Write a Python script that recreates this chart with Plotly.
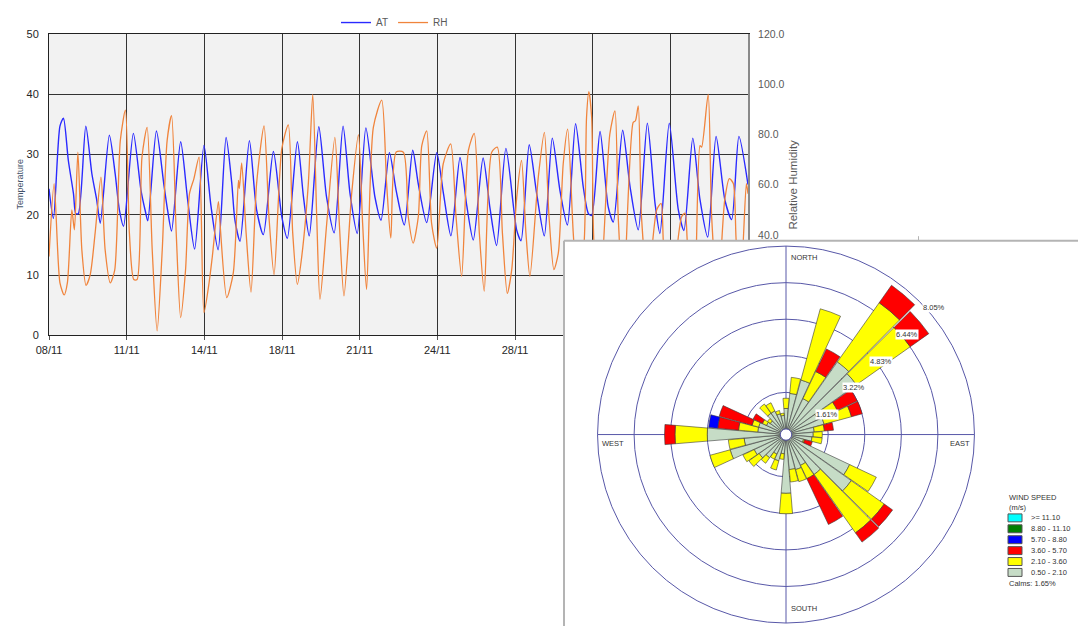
import plotly.graph_objects as go
import pandas as pd

# ---------------- time series data (days after 08/11 00:00) ----------------
start = pd.Timestamp("2019-11-08 00:00")

at_day = [0.00, 0.19, 0.47, 0.62, 0.83, 1.05, 1.15, 1.26, 1.58, 1.84, 2.05, 2.20, 2.59, 2.84,
          3.02, 3.20, 3.62, 3.95, 4.14, 4.24, 4.61, 4.93, 5.10, 5.26, 5.65, 5.95, 6.25, 6.65,
          6.95, 7.26, 7.60, 7.84, 7.98, 8.20, 8.60, 8.91, 9.20, 9.63, 9.99, 10.23, 10.66,
          10.92, 11.17, 11.58, 11.91, 12.24, 12.62, 12.92, 13.23, 13.60, 13.99, 14.25, 14.61,
          14.90, 15.25, 15.61, 15.85, 16.21, 16.64, 16.93, 17.25, 17.64, 17.93, 18.21, 18.63,
          18.93, 19.21, 19.61, 20.07, 20.26, 20.61, 20.93, 21.26, 21.60, 21.93, 22.25, 22.60,
          22.93, 23.15, 23.29, 23.65, 24.00, 24.22, 24.62, 24.94, 25.29, 25.68, 26.01, 26.22,
          26.62, 27.01, 27.25, 27.63, 27.94, 28.27, 28.63, 29.01, 29.30, 29.61, 30.00]
at_val = [24.3, 19.4, 34.7, 36.0, 29.0, 23.5, 20.2, 20.2, 34.7, 26.8, 22.4, 18.6, 33.2, 26.8,
          20.8, 18.1, 33.5, 24.0, 20.5, 19.0, 33.9, 25.0, 20.5, 17.3, 32.1, 22.5, 14.3, 31.5,
          21.5, 14.2, 32.8, 25.4, 19.1, 15.6, 32.3, 20.8, 16.7, 30.5, 19.7, 16.1, 32.1,
          23.0, 16.5, 34.6, 23.0, 17.0, 34.7, 23.5, 16.9, 34.4, 22.9, 19.1, 30.3,
          24.0, 18.3, 30.7, 25.1, 18.7, 30.3, 23.5, 16.5, 29.5, 21.5, 15.8, 29.4,
          21.0, 14.9, 31.0, 17.5, 15.7, 31.6, 23.5, 16.5, 32.7, 24.0, 18.3, 35.1,
          24.6, 20.2, 19.9, 33.8, 21.3, 18.8, 34.0, 24.6, 17.5, 35.2, 21.9, 16.9,
          35.2, 20.8, 17.4, 32.7, 22.5, 16.3, 33.0, 22.4, 19.2, 33.0, 25.0]

rh_day = [0.00, 0.22, 0.47, 0.65, 0.79, 0.98, 1.09, 1.24, 1.41, 1.59, 1.77, 1.98, 2.23, 2.41,
          2.63, 2.82, 3.06, 3.28, 3.45, 3.64, 3.78, 3.99, 4.21, 4.43, 4.64, 4.86, 5.07, 5.26,
          5.46, 5.65, 5.86, 6.03, 6.22, 6.44, 6.65, 6.87, 7.01, 7.27, 7.34, 7.63, 7.91, 8.13,
          8.17, 8.27, 8.46, 8.67, 8.91, 9.23, 9.44, 9.66, 9.99, 10.27, 10.46, 10.66, 10.84,
          11.13, 11.32, 11.49, 11.63, 11.92, 12.27, 12.46, 12.66, 12.99, 13.28, 13.46, 13.63,
          13.92, 14.28, 14.49, 14.67, 14.90, 15.21, 15.42, 15.63, 15.85, 16.00, 16.21, 16.42,
          16.64, 16.92, 17.24, 17.47, 17.71, 18.00, 18.25, 18.47, 18.68, 19.00, 19.24, 19.46,
          19.67, 19.86, 20.07, 20.28, 20.47, 20.64, 21.00, 21.26, 21.46, 21.67, 21.86, 22.07,
          22.26, 22.50, 22.68, 22.96, 23.07, 23.17, 23.29, 23.39, 23.65, 24.07, 24.29, 24.43,
          24.65, 25.07, 25.17, 25.29, 25.43, 25.70, 26.08, 26.27, 26.37, 26.65, 27.15, 27.30,
          27.40, 27.70, 27.94, 28.01, 28.29, 28.44, 28.70, 29.00, 29.20, 29.37, 29.50, 29.70,
          29.93, 30.00]
rh_val = [31.4, 60.4, 20.9, 16.1, 21.0, 49.9, 42.0, 72.9, 34.0, 19.9, 24.2, 40.7, 63.0, 34.0,
          20.9, 26.0, 77.5, 89.6, 40.7, 22.2, 22.2, 70.9, 82.8, 34.0, 1.8, 34.0, 77.5, 87.4,
          40.7, 7.1, 26.0, 56.4, 62.4, 70.9, 9.1, 20.9, 31.4, 53.2, 44.6, 15.0, 24.9, 61.7,
          58.4, 68.6, 40.7, 17.2, 60.4, 83.4, 47.2, 24.2, 74.2, 83.8, 40.7, 20.3, 30.8,
          60.4, 95.9, 47.2, 14.3, 44.6, 78.8, 44.6, 15.7, 56.4, 79.9, 44.6, 18.3,
          82.8, 93.6, 60.4, 38.7, 73.0, 72.9, 47.2, 36.7, 47.2, 75.5, 81.4, 44.6,
          34.7, 68.3, 76.2, 47.2, 23.5, 73.6, 80.4, 40.7, 17.6, 72.9, 74.9, 40.7,
          16.7, 26.2, 54.5, 69.6, 40.7, 23.5, 63.0, 80.8, 47.2, 26.2, 32.8, 68.3,
          82.1, 40.7, 20.0, 36.0, 86.7, 97.0, 86.7, 36.7, 18.0, 80.1, 89.3, 47.0,
          15.0, 84.7, 85.4, 91.3, 47.0, 20.0, 49.9, 52.5, 36.7, 12.0, 47.2, 48.6,
          36.7, 16.0, 75.5, 74.9, 95.9, 47.2, 15.0, 53.8, 62.4, 60.4, 36.7, 25.0,
          60.4, 56.4]

# ---------------- wind rose data (% frequency per 10 degree sector) ----------------
directions = list(range(0, 360, 10))
ws_050_210 = [0.90, 1.57, 2.24, 1.50, 3.67, 3.55, 1.30, 1.49, 1.00, 0.95, 0.90, 0.55,
              2.85, 3.27, 1.90, 1.25, 1.35, 1.30, 2.34, 0.60, 0.95, 0.70, 1.00, 1.20,
              1.30, 2.30, 1.60, 3.22, 1.00, 1.00, 0.70, 0.60, 0.90, 0.90, 0.70, 0.60]
ws_210_360 = [0.45, 0.71, 3.25, 1.32, 3.19, 2.90, 0.95, 1.25, 0.45, 0.40, 0.45, 0.05,
              1.30, 1.78, 3.15, 0.65, 0.55, 0.55, 0.90, 0.25, 0.42, 0.25, 0.30, 0.55,
              0.55, 0.92, 0.70, 1.42, 0.85, 0.30, 0.20, 0.15, 0.50, 0.40, 0.15, 0.10]
ws_360_570 = [0, 0, 0, 1.10, 0.94, 1.00, 0.97, 0.49, 0.40, 0, 0, 0.35,
              0, 0.45, 0.50, 2.23, 0, 0, 0, 0, 0, 0, 0, 0,
              0, 0, 0, 0.46, 0.92, 1.50, 0.45, 0, 0, 0, 0, 0]
ws_570_880 = [0, 0, 0, 0, 0, 0, 0, 0, 0, 0, 0, 0,
              0, 0, 0, 0, 0, 0, 0, 0, 0, 0, 0, 0,
              0, 0, 0, 0, 0.40, 0, 0, 0, 0, 0, 0, 0]
ring_values = [1.61, 3.22, 4.83, 6.44, 8.05]
class_labels = [">= 11.10", "8.80 - 11.10", "5.70 - 8.80", "3.60 - 5.70", "2.10 - 3.60", "0.50 - 2.10"]
class_colors = ["#00ffff", "#008000", "#0000ff", "#ff0000", "#ffff00", "#c6dcc6"]
calms = "Calms: 1.65%"

# page is drawn with an 8px body margin, so the figure is offset by 8px
OFF = 8
W, H = 1086 - OFF, 626 - OFF


def px(x):
    return (x - OFF) / W


def py(y):
    return 1 - (y - OFF) / H


fig = go.Figure()

at_x = start + pd.to_timedelta(at_day, unit="D")
rh_x = start + pd.to_timedelta(rh_day, unit="D")

fig.add_trace(go.Scatter(x=at_x, y=at_val, name="AT", mode="lines",
                         line=dict(color="#2a2aff", width=1.4, shape="spline", smoothing=0.7),
                         xaxis="x", yaxis="y"))
fig.add_trace(go.Scatter(x=rh_x, y=rh_val, name="RH", mode="lines",
                         line=dict(color="#f0843c", width=1.3, shape="spline", smoothing=0.7),
                         xaxis="x", yaxis="y3"))
# empty trace that owns the covering panel subplot
fig.add_trace(go.Scatter(x=[None], y=[None], xaxis="x2", yaxis="y2", showlegend=False,
                         hoverinfo="skip"))

series = [ws_050_210, ws_210_360, ws_360_570, ws_570_880]
for vals, col in zip(series, class_colors[::-1][:4]):
    fig.add_trace(go.Barpolar(r=vals, theta=directions, width=9.5, subplot="polar",
                              marker=dict(color=col, line=dict(color="#3a3a3a", width=0.6)),
                              showlegend=False, hoverinfo="skip"))

cx, cy, R = 786, 433, 190
grid_col = "#5858a8"

end = start + pd.Timedelta(days=30)
tick_font = dict(family="Liberation Sans, Arial, sans-serif", size=11, color="#262626")

fig.update_layout(
    width=W, height=H, template="none",
    margin=dict(l=0, r=0, t=0, b=0),
    paper_bgcolor="white", plot_bgcolor="#f2f2f2",
    font=dict(family="Liberation Sans, Arial, sans-serif", color="#262626"),
    showlegend=True,
    legend=dict(orientation="h", x=px(336), y=py(3), xanchor="left", yanchor="top",
                font=dict(size=10, color="#595959"), bgcolor="rgba(0,0,0,0)"),
    xaxis=dict(domain=[px(49), px(748)], anchor="y", type="date",
               range=[start, end], tick0=start, dtick=80 * 3600 * 1000, tickformat="%d/%m",
               showgrid=True, gridcolor="#333333", gridwidth=1,
               showline=True, linecolor="#222222", linewidth=1, mirror=True,
               ticks="outside", ticklen=4, tickcolor="#555555",
               tickfont=tick_font, zeroline=False, automargin=False),
    yaxis=dict(domain=[py(333), py(29)], anchor="x", range=[0, 50], dtick=10,
               showgrid=True, gridcolor="#333333", gridwidth=1,
               showline=True, linecolor="#222222", linewidth=1,
               ticks="outside", ticklen=7, tickcolor="rgba(0,0,0,0)",
               tickfont=tick_font, zeroline=False, automargin=False),
    yaxis3=dict(overlaying="y", side="right", anchor="x", range=[0, 120], dtick=20,
                tickformat=".1f", showgrid=False, showline=True, linecolor="#8a8a8a",
                linewidth=2, ticks="outside", ticklen=6, tickcolor="rgba(0,0,0,0)",
                tickfont=dict(family="Liberation Sans, Arial, sans-serif", size=10.5,
                              color="#595959"),
                zeroline=False, automargin=False),
    xaxis2=dict(domain=[px(564), 1], anchor="y2", range=[0, 1], visible=False, fixedrange=True),
    yaxis2=dict(domain=[0, py(237)], anchor="x2", range=[0, 1], visible=False, fixedrange=True),
    polar=dict(
        domain=dict(x=[px(cx - R), px(cx + R)], y=[py(cy + R), py(cy - R)]),
        bgcolor="rgba(0,0,0,0)", hole=0.03, barmode="stack",
        radialaxis=dict(range=[0, ring_values[-1]], tickvals=ring_values, showticklabels=False,
                        ticks="", showline=False, gridcolor=grid_col, gridwidth=1),
        angularaxis=dict(rotation=90, direction="clockwise", tickvals=[0, 90, 180, 270],
                         showticklabels=False, ticks="", gridcolor=grid_col, gridwidth=1,
                         showline=True, linecolor=grid_col, linewidth=1),
    ),
)

shapes = [
    # white panel that holds the wind rose
    dict(type="rect", xref="x2", yref="y2", x0=0, x1=1, y0=0, y1=1,
         fillcolor="white", line=dict(width=0), layer="below"),
    dict(type="line", xref="paper", yref="paper", x0=px(564), x1=1, y0=py(237.5), y1=py(237.5),
         line=dict(color="#b4b4b4", width=2), layer="above"),
    dict(type="line", xref="paper", yref="paper", x0=px(564), x1=px(564), y0=0, y1=py(237.5),
         line=dict(color="#b4b4b4", width=2), layer="above"),
    dict(type="line", xref="paper", yref="paper", x0=px(918.5), x1=px(918.5), y0=py(233), y1=py(237),
         line=dict(color="#b4b4b4", width=1), layer="above"),
]

annotations = [
    dict(text="Temperature", x=px(20), y=py(181), xref="paper", yref="paper", showarrow=False,
         xanchor="center", yanchor="middle",
         textangle=-90, font=dict(size=9, color="#44546a")),
    dict(text="Relative Humidity", x=px(793), y=py(181), xref="paper", yref="paper",
         xanchor="center", yanchor="middle",
         showarrow=False, textangle=-90, font=dict(size=11.5, color="#595959")),
]

small = dict(family="Liberation Sans, Arial, sans-serif", size=7.5, color="#333333")
# compass labels
compass = [
    dict(text="NORTH", x=px(789), y=py(cy - R + 5), xanchor="left", yanchor="top"),
    dict(text="SOUTH", x=px(789), y=py(cy + R - 8), xanchor="left", yanchor="bottom"),
    dict(text="EAST", x=px(cx + R - 4), y=py(cy + 2), xanchor="right", yanchor="top"),
    dict(text="WEST", x=px(cx - R + 4), y=py(cy + 2), xanchor="left", yanchor="top"),
]
for a in compass:
    a.update(xref="paper", yref="paper", showarrow=False, font=small)
annotations += compass

# ring percentage labels along the 45 degree line
for k, v in enumerate(ring_values, start=1):
    d = R * k / len(ring_values) * 0.7071
    annotations.append(dict(text=f"{v:.2f}%", x=px(cx + d + 2), y=py(cy - d + 1),
                            xref="paper", yref="paper", xanchor="left", yanchor="top",
                            showarrow=False, font=small, bgcolor="white", borderpad=0))

# wind speed legend
annotations.append(dict(text="WIND SPEED<br>(m/s)", x=px(1007), y=py(490), xref="paper",
                        yref="paper", xanchor="left", yanchor="top", align="left",
                        showarrow=False, font=small))
y0 = 517
for i, (lab, col) in enumerate(zip(class_labels, class_colors)):
    yc = y0 + i * 11
    shapes.append(dict(type="rect", xref="paper", yref="paper", x0=px(1008), x1=px(1022),
                       y0=py(yc + 4), y1=py(yc - 4), fillcolor=col,
                       line=dict(color="#555555", width=1), layer="above"))
    annotations.append(dict(text=lab, x=px(1029), y=py(yc), xref="paper", yref="paper",
                            xanchor="left", yanchor="middle", showarrow=False, font=small))
annotations.append(dict(text=calms, x=px(1007), y=py(583), xref="paper", yref="paper",
                        xanchor="left", yanchor="middle", showarrow=False, font=small))

fig.update_layout(shapes=shapes, annotations=annotations)
fig.write_html("out.html")
